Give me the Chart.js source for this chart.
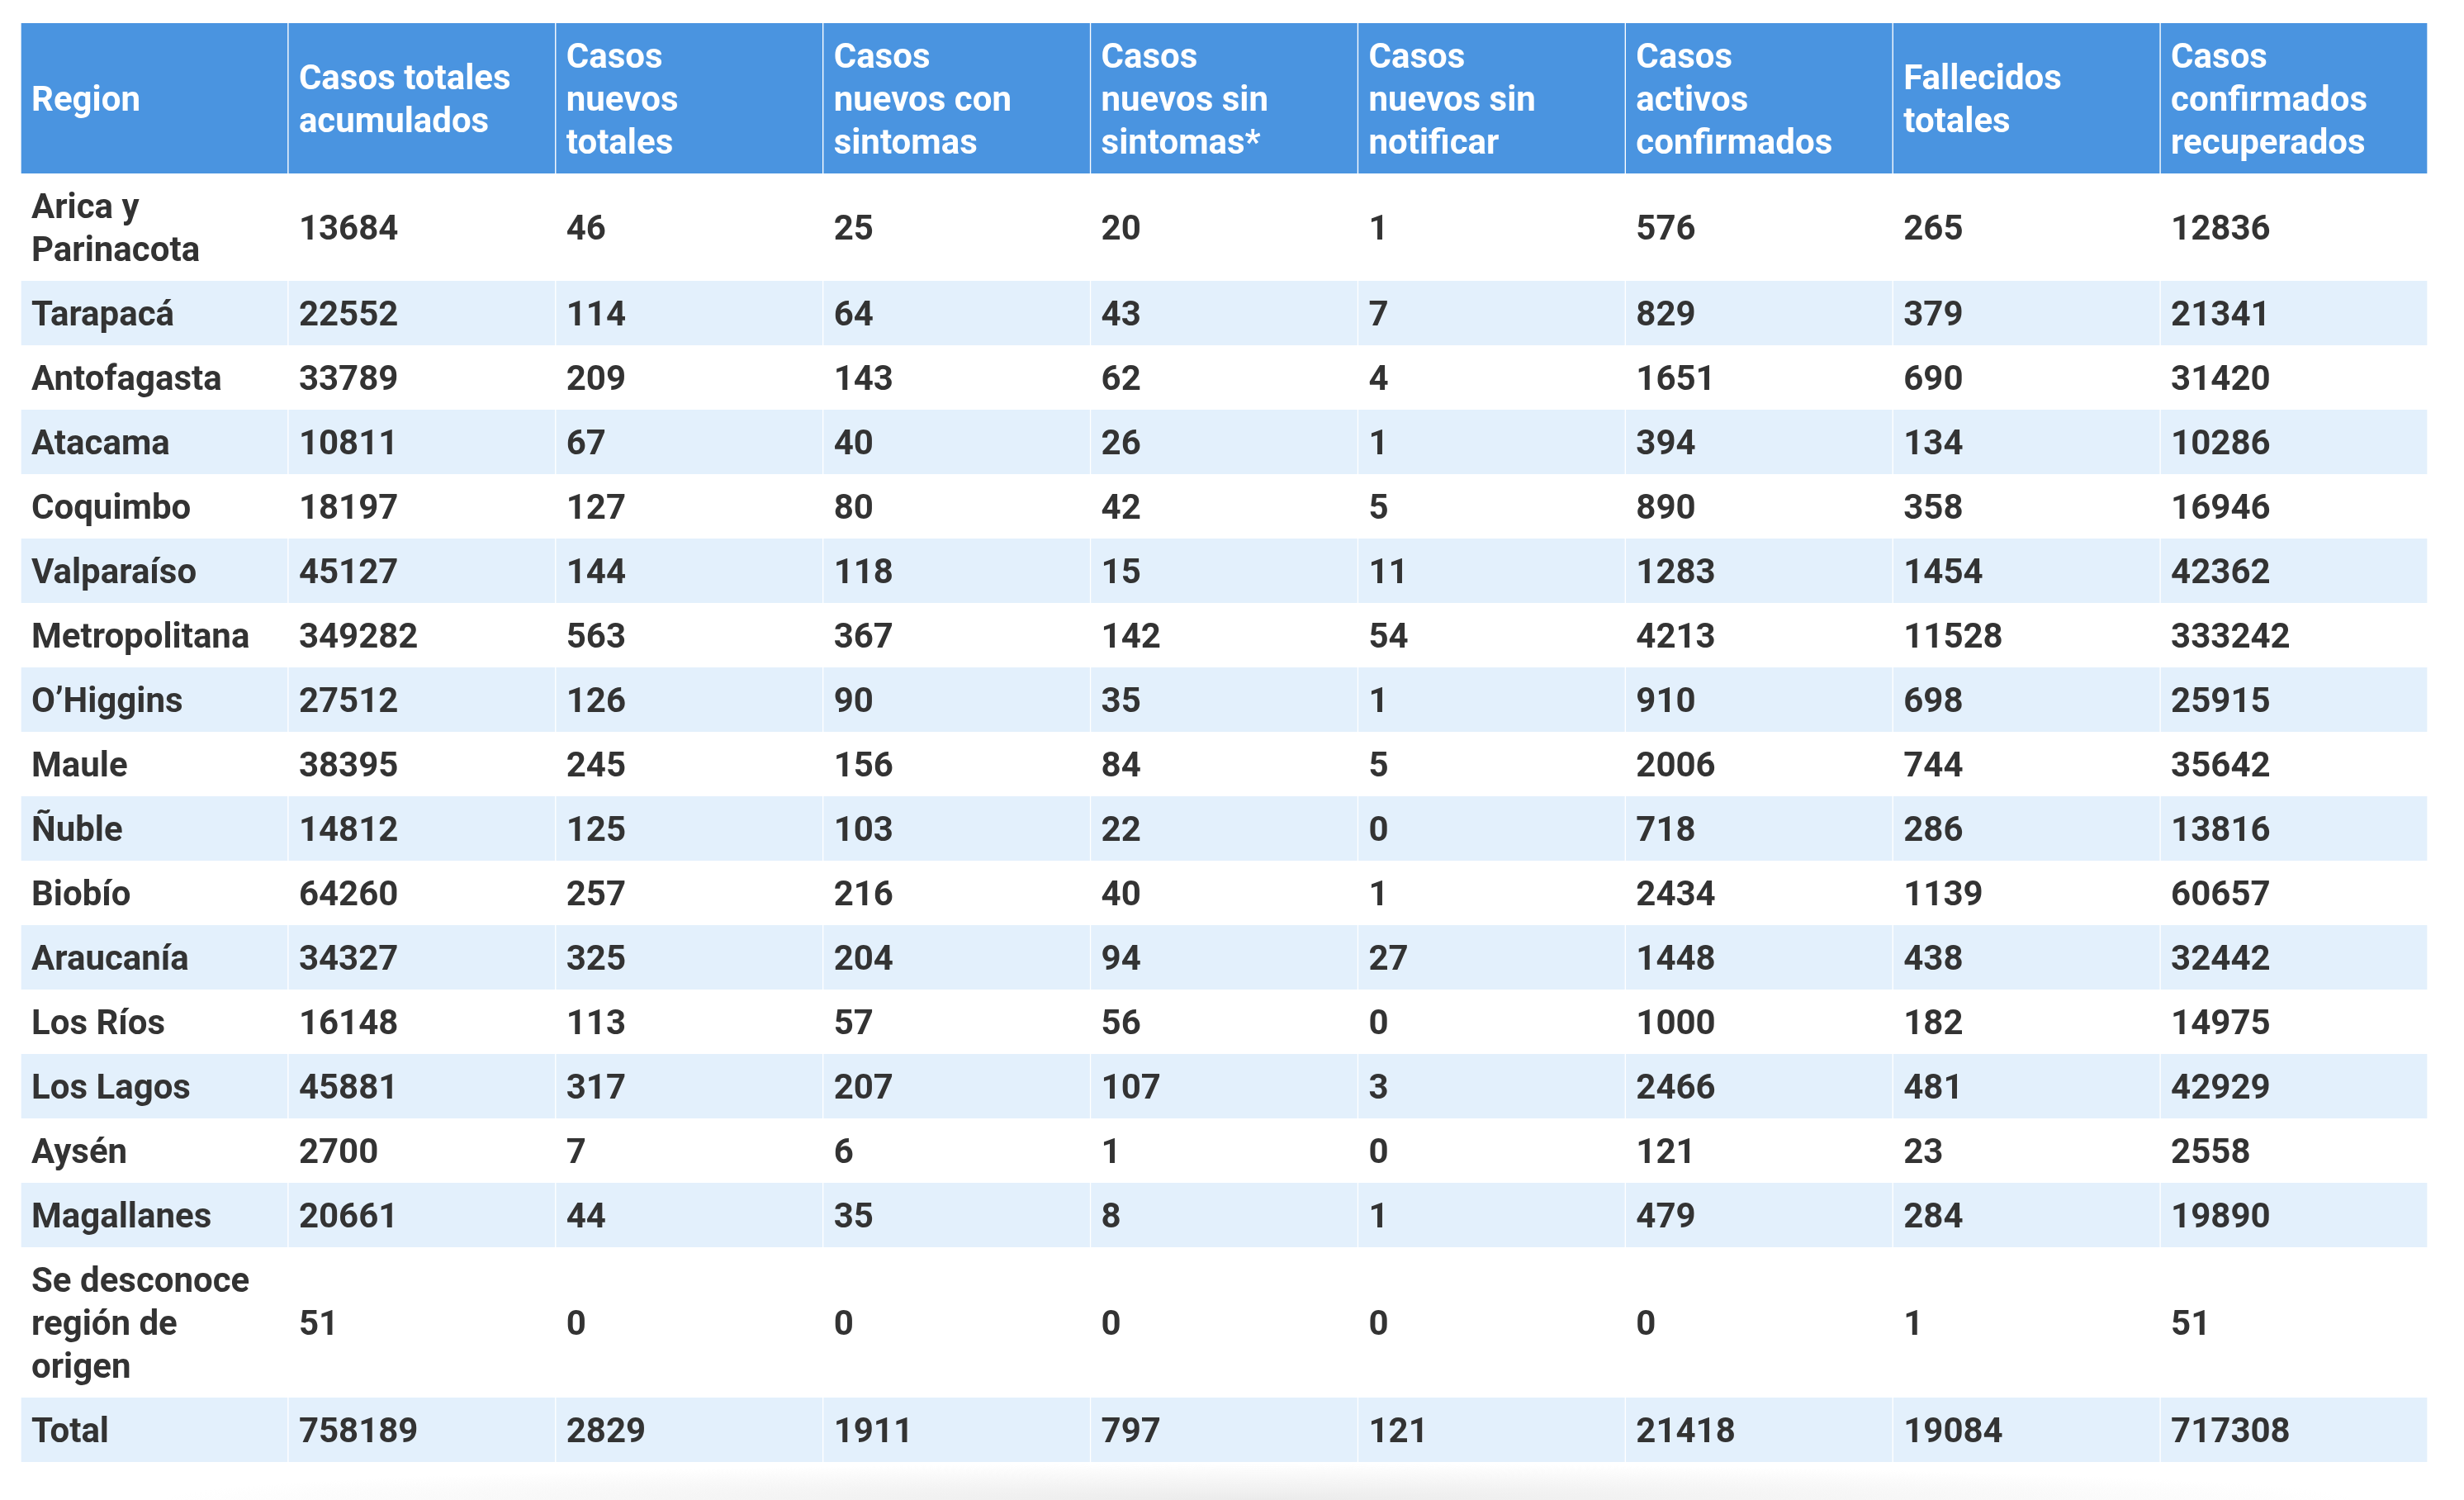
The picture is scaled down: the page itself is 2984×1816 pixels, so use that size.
<!DOCTYPE html>
<html>
<head>
<meta charset="utf-8">
<title>Casos por región</title>
<script src="https://cdn.jsdelivr.net/npm/chart.js@4.4.1/dist/chart.umd.min.js"></script>
<style>
    body { margin: 0; background: #fff; }
    #wrap { position: relative; width: 2984px; height: 1816px; }
    #shadow {
        position: absolute; left: 200px; top: 1772px; width: 2650px; height: 44px;
        background: radial-gradient(ellipse 50% 100% at 50% 100%, #ebebeb 0%, #f4f4f4 45%, rgba(255,255,255,0) 100%);
    }
</style>
</head>
<body>
<div id="wrap">
    <div id="shadow"></div>
    <canvas id="tableChart"></canvas>
</div>
<script>
// Column headers (line breaks as in the original table)
const headers = [
    'Region',
    'Casos totales\nacumulados',
    'Casos\nnuevos\ntotales',
    'Casos\nnuevos con\nsintomas',
    'Casos\nnuevos sin\nsintomas*',
    'Casos\nnuevos sin\nnotificar',
    'Casos\nactivos\nconfirmados',
    'Fallecidos\ntotales',
    'Casos\nconfirmados\nrecuperados'
];

const regions = [
    'Arica y\nParinacota', 'Tarapacá', 'Antofagasta', 'Atacama', 'Coquimbo', 'Valparaíso',
    'Metropolitana', 'O\u2019Higgins', 'Maule', 'Ñuble', 'Biobío', 'Araucanía', 'Los Ríos',
    'Los Lagos', 'Aysén', 'Magallanes', 'Se desconoce\nregión de\norigen', 'Total'
];

const casosTotales = [13684, 22552, 33789, 10811, 18197, 45127, 349282, 27512, 38395, 14812, 64260, 34327, 16148, 45881, 2700, 20661, 51, 758189];
const casosNuevos  = [46, 114, 209, 67, 127, 144, 563, 126, 245, 125, 257, 325, 113, 317, 7, 44, 0, 2829];
const conSintomas  = [25, 64, 143, 40, 80, 118, 367, 90, 156, 103, 216, 204, 57, 207, 6, 35, 0, 1911];
const sinSintomas  = [20, 43, 62, 26, 42, 15, 142, 35, 84, 22, 40, 94, 56, 107, 1, 8, 0, 797];
const sinNotificar = [1, 7, 4, 1, 5, 11, 54, 1, 5, 0, 1, 27, 0, 3, 0, 1, 0, 121];
const activos      = [576, 829, 1651, 394, 890, 1283, 4213, 910, 2006, 718, 2434, 1448, 1000, 2466, 121, 479, 0, 21418];
const fallecidos   = [265, 379, 690, 134, 358, 1454, 11528, 698, 744, 286, 1139, 438, 182, 481, 23, 284, 1, 19084];
const recuperados  = [12836, 21341, 31420, 10286, 16946, 42362, 333242, 25915, 35642, 13816, 60657, 32442, 14975, 42929, 2558, 19890, 51, 717308];

const valueColumns = [casosTotales, casosNuevos, conSintomas, sinSintomas, sinNotificar, activos, fallecidos, recuperados];

// Colors
const headerBlue = '#4a94e0';
const stripeBlue = '#e3f0fc';
const textDark = '#333333';

// Build rows of text: header first, then one row per region
const rows = [headers.map(h => h.split('\n'))];
regions.forEach(function (name, i) {
    const cells = [name.split('\n')];
    valueColumns.forEach(col => cells.push([String(col[i])]));
    rows.push(cells);
});

// Row height in "line" units: lines + half a line of padding
let cursor = 0;
const bounds = rows.map(function (cells) {
    const lines = Math.max.apply(null, cells.map(c => c.length));
    const top = cursor;
    cursor += lines + 0.5;
    return [top, cursor];
});
const totalUnits = cursor;

const datasets = rows.map(function (cells, r) {
    let bg;
    if (r === 0) bg = headerBlue;
    else bg = (r % 2 === 0) ? stripeBlue : '#ffffff';
    return {
        label: r === 0 ? 'header' : regions[r - 1],
        data: headers.map(() => bounds[r]),
        backgroundColor: bg,
        borderColor: '#ffffff',
        borderWidth: { left: 1, right: 1, top: 0, bottom: 0 },
        borderSkipped: false,
        grouped: false,
        barPercentage: 1,
        categoryPercentage: 1
    };
});

// Draws cell texts at the position of each bar element
const cellText = {
    id: 'cellText',
    afterDatasetsDraw(chart) {
        const ctx = chart.ctx;
        const y = chart.scales.y;
        const lineH = Math.abs(y.getPixelForValue(1) - y.getPixelForValue(0));
        ctx.save();
        ctx.font = 'bold 42px Roboto, "Liberation Sans", sans-serif';
        ctx.textBaseline = 'middle';
        ctx.textAlign = 'left';
        rows.forEach(function (cells, r) {
            const meta = chart.getDatasetMeta(r);
            ctx.fillStyle = r === 0 ? '#ffffff' : textDark;
            cells.forEach(function (lines, c) {
                const el = meta.data[c];
                const left = el.x - el.width / 2 + 13;
                const mid = (el.y + el.base) / 2;
                lines.forEach(function (txt, k) {
                    const ty = mid + (k - (lines.length - 1) / 2) * lineH;
                    ctx.fillText(txt, left, ty + 4);
                });
            });
        });
        ctx.restore();
    }
};

document.addEventListener('DOMContentLoaded', function () {
    const ctx = document.getElementById('tableChart').getContext('2d');
    window.tableChart = new Chart(ctx, {
        type: 'bar',
        data: {
            labels: headers,
            datasets: datasets
        },
        options: {
            responsive: true,
            maintainAspectRatio: false,
            animation: false,
            layout: {
                padding: { left: 25, right: 44, top: 28, bottom: 46 }
            },
            plugins: {
                legend: { display: false },
                tooltip: { enabled: false },
                title: { display: false }
            },
            scales: {
                x: { display: false, offset: true },
                y: { display: false, reverse: true, min: 0, max: totalUnits }
            }
        },
        plugins: [cellText]
    });
});
</script>
</body>
</html>
